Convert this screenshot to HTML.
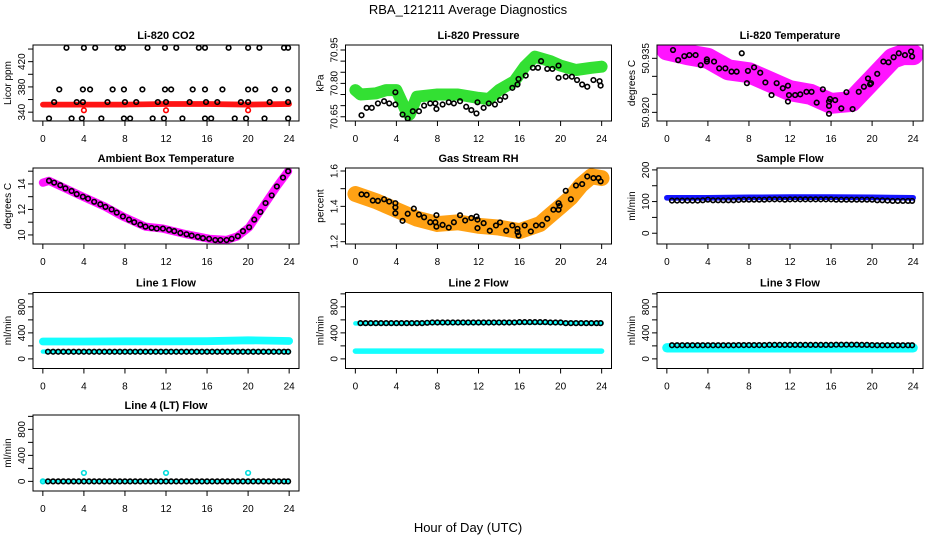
<!DOCTYPE html>
<html><head><meta charset="utf-8"><style>
html,body{margin:0;padding:0;background:#fff;}
svg{display:block;font-family:"Liberation Sans",sans-serif;}
</style></head><body>
<svg id="fig" width="936" height="540" viewBox="0 0 936 540" xmlns="http://www.w3.org/2000/svg">
<text x="468" y="14" text-anchor="middle" font-size="13">RBA_121211  Average Diagnostics</text>
<text x="468" y="532" text-anchor="middle" font-size="13">Hour of Day (UTC)</text>
</svg>
<script>
// ---------- data ----------
const co2Hours=[2.3,4,5.1,7.3,7.8,10.2,11.9,13,15.2,15.8,18.1,20,21.1,23.5,23.9,
1.6,3.9,4.6,6.8,7.9,9.7,11.9,12.5,14.6,15.8,17.5,20,20.7,22.6,23.9,
1.1,3.3,3.9,6.3,8,9.1,11.2,12,14.3,15.9,17,19.3,20,22.1,23.9,
0.6,2.8,3.8,5.7,7.9,8.5,10.7,11.8,13.6,15.8,16.4,18.7,19.8,21.6,23.9];
const co2Vals=[442,442,442,442,442,442,442,442,442,442,442,442,442,442,442,
376,376,376,376,376,376,376,376,376,376,376,376,376,376,376,
356,356,356,356,356,356,356,356,356,356,356,356,356,356,356,
330,330,330,330,330,330,330,330,330,330,330,330,330,330,330];
const co2BandHours=[0,4,8,12,16,20,24];
const co2BandVals=[352,352,352,353,353,352,353];
const co2RedHours=[4,12,20];
const co2RedVals=[343,343,343];

const presBandHours=[0,0.5,2,3,4,4.5,5,5.3,6,8,10,12,13,14,15.5,16.5,17.5,19,20,21.5,23,24];
const presBandVals=[70.77,70.75,70.755,70.77,70.77,70.72,70.67,70.66,70.74,70.75,70.75,70.735,70.73,70.77,70.81,70.875,70.92,70.90,70.88,70.86,70.87,70.875];
const presHours=[0.6,1.1,1.6,2.2,2.8,3.3,3.9,3.9,4.6,5.1,5.6,6.2,6.7,7.3,7.8,7.9,8.5,9.1,9.6,10.2,10.8,11.3,11.8,11.9,12.5,13.0,13.6,14.1,14.6,15.3,15.8,15.9,16.6,17.3,17.8,18.1,18.7,19.2,19.8,19.8,20.5,21.1,21.6,22.1,22.6,23.2,23.8,23.9];
const presVals=[70.657,70.69,70.69,70.71,70.72,70.71,70.705,70.76,70.66,70.642,70.675,70.675,70.70,70.71,70.71,70.685,70.705,70.715,70.71,70.72,70.695,70.68,70.665,70.715,70.69,70.71,70.705,70.725,70.74,70.78,70.795,70.82,70.835,70.87,70.87,70.90,70.865,70.865,70.88,70.825,70.83,70.83,70.815,70.795,70.785,70.815,70.81,70.79];

const tempBandHours=[0,2,4,6,8,10,12,14,16,18,19,20,22,23,24];
const tempBandVals=[50.9373,50.936,50.935,50.9318,50.931,50.9285,50.926,50.925,50.9225,50.923,50.926,50.929,50.935,50.936,50.936];
const tempHours=[0.6,1.1,1.7,2.2,2.8,3.3,3.9,3.9,4.6,5.1,5.7,6.3,6.8,7.3,7.8,7.9,8.5,9.1,9.6,10.2,10.7,11.3,11.8,11.9,11.8,12.5,13,13.6,14.1,14.6,15.2,15.8,15.8,15.8,15.9,16.4,17,17.5,18.1,18.7,19.2,19.6,19.8,19.9,20.5,21.1,21.6,22.1,22.6,23.2,23.8,23.9];
const tempVals=[50.9373,50.9345,50.9356,50.9359,50.9359,50.9331,50.9347,50.9341,50.9341,50.9322,50.9322,50.9313,50.9313,50.9364,50.9281,50.9315,50.9325,50.9310,50.9283,50.9248,50.9281,50.9267,50.9274,50.9248,50.9230,50.9248,50.9250,50.9257,50.9257,50.9227,50.9264,50.9230,50.9218,50.9196,50.9237,50.9234,50.9211,50.9256,50.9209,50.9257,50.9271,50.9294,50.9278,50.9281,50.9307,50.9341,50.9339,50.9353,50.9364,50.9359,50.9369,50.9355];

const ambHours=[0.6,1.1,1.7,2.2,2.8,3.3,3.9,4.4,5.0,5.6,6.1,6.7,7.2,7.8,8.4,8.9,9.5,10.0,10.6,11.1,11.7,12.3,12.8,13.4,14.0,14.5,15.1,15.6,16.2,16.8,17.3,17.9,18.4,19.0,19.5,20.1,20.6,21.2,21.7,22.3,22.8,23.4,23.9];
const ambVals=[14.25,14.1,13.9,13.65,13.45,13.2,13.0,12.85,12.6,12.4,12.2,12.0,11.75,11.45,11.2,11.0,10.8,10.65,10.55,10.5,10.5,10.4,10.3,10.15,10.05,9.95,9.85,9.75,9.7,9.6,9.6,9.6,9.7,9.9,10.3,10.6,11.2,11.8,12.5,13.1,13.8,14.5,15.0];
const ambBandHours=[0,0.6,2.2,3.9,6.1,7.8,10.0,11.7,14.0,16.2,17.9,19.0,20.1,21.7,22.8,23.9];
const ambBandVals=[14.1,14.25,13.65,13.0,12.2,11.45,10.65,10.5,10.05,9.7,9.6,9.9,10.6,12.5,13.8,15.0];

const rhBandHours=[0,2,4,6,8,10,12,14,16,17,18,19,20,21,22,23,24];
const rhBandVals=[1.47,1.43,1.38,1.33,1.30,1.31,1.29,1.28,1.26,1.28,1.30,1.35,1.40,1.45,1.52,1.57,1.56];
const rhHours=[0.6,1.1,1.7,2.2,2.8,3.3,3.9,3.9,3.9,4.6,5.1,5.7,6.2,6.7,7.3,7.8,7.9,7.9,8.5,9.1,9.6,10.2,10.7,11.3,11.8,11.9,11.9,12.5,13.1,13.7,14.1,14.7,15.3,15.8,15.8,15.9,16.5,17.1,17.6,18.2,18.7,19.3,19.8,19.8,19.9,20.5,21.0,21.5,22.1,22.6,23.2,23.7,23.9];
const rhVals=[1.468,1.465,1.433,1.431,1.44,1.427,1.418,1.394,1.361,1.318,1.358,1.387,1.353,1.338,1.31,1.31,1.285,1.35,1.295,1.28,1.31,1.35,1.32,1.334,1.343,1.325,1.277,1.305,1.262,1.292,1.309,1.262,1.292,1.273,1.254,1.235,1.292,1.258,1.292,1.295,1.33,1.381,1.381,1.418,1.403,1.488,1.44,1.518,1.526,1.569,1.56,1.56,1.541];

const flowHours=[0.5,1.0,1.5,2.0,2.5,3.0,3.5,4.0,4.5,5.0,5.5,6.0,6.5,7.0,7.5,8.0,8.5,9.0,9.5,10.0,10.5,11.0,11.5,12.0,12.5,13.0,13.5,14.0,14.5,15.0,15.5,16.0,16.5,17.0,17.5,18.0,18.5,19.0,19.5,20.0,20.5,21.0,21.5,22.0,22.5,23.0,23.5,23.9];
const sampleVals=[103,103,103,103,103,103,104,106,104,104,104,104,104,105,106,106,106,106,106,107,107,107,106,107,107,107,107,107,107,107,107,107,106,106,106,106,106,106,106,106,104,104,103,102,102,102,102,102];
const line1Vals=[110,110,110,110,110,110,110,110,110,110,110,110,110,110,110,110,110,110,110,110,110,110,110,110,110,110,110,110,110,110,110,110,110,110,110,110,110,110,110,110,110,110,110,110,110,110,110,110];
const line2Vals=[550,550,550,550,550,550,550,550,550,550,550,550,550,555,560,560,560,560,560,560,560,560,560,560,560,560,560,560,560,560,560,565,565,565,565,565,565,560,560,560,550,550,550,550,550,550,550,550];
const line3Vals=[210,210,210,210,210,210,210,210,210,210,210,210,210,212,212,212,212,212,212,215,215,215,215,215,215,215,215,215,215,215,215,215,218,218,218,218,218,215,215,212,210,210,210,210,210,210,210,210];
const line4Vals=[0,0,0,0,0,0,0,0,0,0,0,0,0,0,0,0,0,0,0,0,0,0,0,0,0,0,0,0,0,0,0,0,0,0,0,0,0,0,0,0,0,0,0,0,0,0,0,0];

const bandHours=[0,4,8,12,16,20,24];
const sampleBandVals=[112,112,113,114,114,113,112];
const line1HiVals=[268,268,270,270,272,285,275];
const line1LoVals=[112,112,112,112,112,112,112];
const line2HiVals=[545,545,555,555,560,555,545];
const line2LoVals=[120,120,120,120,120,120,120];
const line3Vals2=[170,170,170,170,170,170,170];
const line4BandVals=[5,5,5,5,5,5,5];
const line4CyanHours=[0,4,12,20];
const line4CyanVals=[0,130,130,130];

// ---------- drawing ----------
const NS="http://www.w3.org/2000/svg";
const svg=document.getElementById('fig');
function mk(tag,attrs,name,parent){
  const e=document.createElementNS(NS,tag);
  for(const k in attrs) e.setAttribute(k,attrs[k]);
  
  
  (parent||svg).appendChild(e);
  return e;
}
const COLS=[33,345.5,657];
const ROWS=[45,168,292.5,415];
const BW=266, BH=76;
function makePanel(cfg){
  const L=COLS[cfg.col], T=ROWS[cfg.row];
  const g=mk('g',{},cfg.name);
  const s=(BW)/25.92;
  const x=h=>L+(h+0.96)*s;
  const y=v=>T+BH-(v-cfg.ylim[0])/(cfg.ylim[1]-cfg.ylim[0])*BH;
  const ppu=BH/(cfg.ylim[1]-cfg.ylim[0]);
  const clip=mk('clipPath',{id:'c'+cfg.name},'clip-region',g);
  mk('rect',{x:L,y:T,width:BW,height:BH},'clip-rect',clip);
  const data=mk('g',{'clip-path':'url(#c'+cfg.name+')'},'plot-area',g);
  mk('text',{x:L+BW/2,y:T-6,'text-anchor':'middle','font-size':11,'font-weight':'bold'},'panel-title',g).textContent=cfg.title;
  mk('rect',{x:L,y:T,width:BW,height:BH,fill:'none',stroke:'#000','stroke-width':1},'plot-box',g);
  const xa=mk('g',{},'x-axis',g);
  mk('line',{x1:x(0),x2:x(24),y1:T+BH,y2:T+BH,stroke:'#000'},'x-axis-line',xa);
  [0,4,8,12,16,20,24].forEach(h=>{
    mk('line',{x1:x(h),x2:x(h),y1:T+BH,y2:T+BH+5,stroke:'#000'},'x-tick',xa);
    mk('text',{x:x(h),y:T+BH+21,'text-anchor':'middle','font-size':10},'x-tick-label',xa).textContent=h;
  });
  const ya=mk('g',{},'y-axis',g);
  const tk=cfg.ticks;
  mk('line',{x1:L,x2:L,y1:y(tk[0]),y2:y(tk[tk.length-1]),stroke:'#000'},'y-axis-line',ya);
  tk.forEach(v=>{
    mk('line',{x1:L,x2:L-5,y1:y(v),y2:y(v),stroke:'#000'},'y-tick',ya);
  });
  cfg.labels.forEach((v,i)=>{
    const t=mk('text',{x:L-8,y:y(v),'text-anchor':'middle','font-size':10,transform:'rotate(-90 '+(L-8)+' '+y(v)+')'},'y-tick-label',ya);
    t.textContent=cfg.labelText[i];
  });
  const yt=mk('text',{x:L-22,y:T+BH/2,'text-anchor':'middle','font-size':10,transform:'rotate(-90 '+(L-22)+' '+(T+BH/2)+')'},'y-axis-title',g);
  yt.textContent=cfg.ylab;
  return {x,y,ppu,data};
}
function band(p,hours,vals,half,color,name){
  const d=hours.map((h,i)=>(i?'L':'M')+p.x(h).toFixed(1)+' '+p.y(vals[i]).toFixed(1)).join(' ');
  mk('path',{d:d,fill:'none',stroke:color,'stroke-opacity':0.92,'stroke-width':Math.max(2,2*half*p.ppu),'stroke-linecap':'round','stroke-linejoin':'round'},name,p.data);
}
function pts(p,hours,vals,color,name){
  hours.forEach((h,i)=>{
    mk('circle',{cx:p.x(h),cy:p.y(vals[i]),r:2.3,fill:'none',stroke:color,'stroke-width':1.6},name,p.data);
  });
}
const flowTicks=[0,200,400,600,800,1000], flowLab=[0,400,800];

let p=makePanel({name:'panel-co2',col:0,row:0,title:'Li-820 CO2',ylab:'Licor ppm',ylim:[326,446.4],ticks:[340,360,380,400,420,440],labels:[340,380,420],labelText:['340','380','420']});
band(p,co2BandHours,co2BandVals,4.5,'#ff0000','co2-red-band');
pts(p,co2RedHours,co2RedVals,'#ff0000','co2-red-point');
pts(p,co2Hours,co2Vals,'#000','co2-point');

p=makePanel({name:'panel-pressure',col:1,row:0,title:'Li-820 Pressure',ylab:'kPa',ylim:[70.631,70.9725],ticks:[70.65,70.70,70.75,70.80,70.85,70.90,70.95],labels:[70.65,70.80,70.95],labelText:['70.65','70.80','70.95']});
band(p,presBandHours,presBandVals,0.027,'#22dd22','pressure-green-band');
pts(p,presHours,presVals,'#000','pressure-point');

p=makePanel({name:'panel-temperature',col:2,row:0,title:'Li-820 Temperature',ylab:'degrees C',ylim:[50.9176,50.9387],ticks:[50.920,50.925,50.930,50.935],labels:[50.920,50.935],labelText:['50.920','50.935']});
band(p,tempBandHours,tempBandVals,0.0029,'#ff00ff','temperature-magenta-band');
pts(p,tempHours,tempVals,'#000','temperature-point');

p=makePanel({name:'panel-ambient',col:0,row:1,title:'Ambient Box Temperature',ylab:'degrees C',ylim:[9.29,15.25],ticks:[10,11,12,13,14,15],labels:[10,12,14],labelText:['10','12','14']});
band(p,ambBandHours,ambBandVals,0.32,'#ff00ff','ambient-magenta-band');
pts(p,ambHours,ambVals,'#000','ambient-point');

p=makePanel({name:'panel-rh',col:1,row:1,title:'Gas Stream RH',ylab:'percent',ylim:[1.187,1.617],ticks:[1.2,1.3,1.4,1.5,1.6],labels:[1.2,1.4,1.6],labelText:['1.2','1.4','1.6']});
band(p,rhBandHours,rhBandVals,0.045,'#ff9900','rh-orange-band');
pts(p,rhHours,rhVals,'#000','rh-point');

p=makePanel({name:'panel-sample-flow',col:2,row:1,title:'Sample Flow',ylab:'ml/min',ylim:[-34,206],ticks:[0,50,100,150,200],labels:[0,100,200],labelText:['0','100','200']});
band(p,bandHours,sampleBandVals,9,'#0000ff','sample-blue-band');
pts(p,flowHours,sampleVals,'#000','sample-point');

p=makePanel({name:'panel-line1',col:0,row:2,title:'Line 1 Flow',ylab:'ml/min',ylim:[-148,1021],ticks:flowTicks,labels:flowLab,labelText:['0','400','800']});
band(p,bandHours,line1HiVals,60,'#00ffff','line1-cyan-high-band');
band(p,bandHours,line1LoVals,34,'#00ffff','line1-cyan-low-band');
pts(p,flowHours,line1Vals,'#000','line1-point');

p=makePanel({name:'panel-line2',col:1,row:2,title:'Line 2 Flow',ylab:'ml/min',ylim:[-148,1021],ticks:flowTicks,labels:flowLab,labelText:['0','400','800']});
band(p,bandHours,line2HiVals,35,'#00ffff','line2-cyan-high-band');
band(p,bandHours,line2LoVals,42,'#00ffff','line2-cyan-low-band');
pts(p,flowHours,line2Vals,'#000','line2-point');

p=makePanel({name:'panel-line3',col:2,row:2,title:'Line 3 Flow',ylab:'ml/min',ylim:[-148,1021],ticks:flowTicks,labels:flowLab,labelText:['0','400','800']});
band(p,bandHours,line3Vals2,72,'#00ffff','line3-cyan-band');
pts(p,flowHours,line3Vals,'#000','line3-point');

p=makePanel({name:'panel-line4',col:0,row:3,title:'Line 4 (LT) Flow',ylab:'ml/min',ylim:[-148,1021],ticks:flowTicks,labels:flowLab,labelText:['0','400','800']});
band(p,bandHours,line4BandVals,25,'#00ffff','line4-cyan-band');
pts(p,line4CyanHours,line4CyanVals,'#00dddd','line4-cyan-point');
pts(p,flowHours,line4Vals,'#000','line4-point');
</script>
</body></html>
